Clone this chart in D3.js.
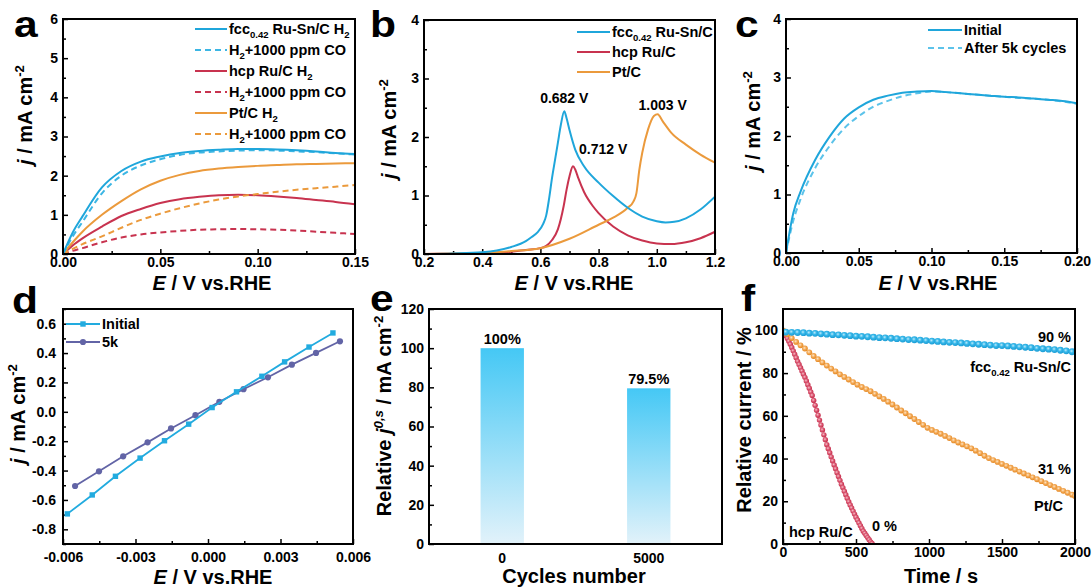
<!DOCTYPE html>
<html><head><meta charset="utf-8">
<script src="https://cdn.jsdelivr.net/npm/d3@7"></script>
<style>body{margin:0;background:#fff}svg{display:block;font-family:"Liberation Sans",Arial,sans-serif;font-weight:bold}</style>
</head><body><script>
// ---------- DATA ----------
// Panel a
const aX = [0,0.005,0.01,0.02,0.03,0.04,0.05,0.06,0.07,0.08,0.09,0.10,0.11,0.12,0.13,0.14,0.15];
const aFccH2 = [0,0.55,0.96,1.7,2.12,2.36,2.49,2.58,2.63,2.66,2.68,2.68,2.67,2.65,2.62,2.58,2.55];
const aFccCO = [0,0.45,0.82,1.55,2.0,2.26,2.42,2.53,2.59,2.62,2.64,2.65,2.64,2.62,2.6,2.57,2.54];
const aHcpH2 = [0,0.22,0.4,0.7,0.97,1.15,1.3,1.4,1.46,1.5,1.51,1.5,1.47,1.43,1.38,1.33,1.27];
const aHcpCO = [0,0.08,0.15,0.3,0.42,0.5,0.55,0.59,0.62,0.63,0.64,0.63,0.62,0.6,0.57,0.54,0.51];
const aPtH2 = [0,0.3,0.57,1.0,1.35,1.65,1.87,2.02,2.12,2.18,2.22,2.25,2.27,2.29,2.3,2.31,2.32];
const aPtCO = [0,0.13,0.25,0.45,0.67,0.87,1.03,1.17,1.29,1.39,1.47,1.53,1.59,1.64,1.68,1.72,1.76];
const aLegend = ["fcc|0.42| Ru-Sn/C H|2", "H|2|+1000 ppm CO", "hcp Ru/C H|2", "H|2|+1000 ppm CO", "Pt/C H|2", "H|2|+1000 ppm CO"];
// Panel b
const bFccX = [0.2,0.3,0.4,0.45,0.5,0.55,0.57,0.59,0.61,0.62,0.63,0.64,0.65,0.66,0.67,0.682,0.69,0.70,0.72,0.75,0.8,0.85,0.9,0.95,1.0,1.03,1.06,1.1,1.15,1.2];
const bFccY = [0,0.01,0.03,0.06,0.12,0.22,0.29,0.37,0.52,0.66,0.95,1.3,1.6,1.9,2.2,2.44,2.32,2.12,1.78,1.5,1.22,0.99,0.79,0.64,0.56,0.54,0.55,0.61,0.76,0.98];
const bHcpX = [0.2,0.3,0.4,0.5,0.55,0.6,0.62,0.64,0.66,0.68,0.69,0.70,0.712,0.72,0.73,0.75,0.78,0.8,0.85,0.9,0.95,1.0,1.05,1.1,1.15,1.2];
const bHcpY = [0,0.005,0.01,0.04,0.07,0.1,0.14,0.24,0.42,0.82,1.1,1.33,1.5,1.44,1.3,1.06,0.82,0.7,0.47,0.32,0.23,0.18,0.17,0.2,0.27,0.38];
const bPtX = [0.2,0.3,0.4,0.5,0.6,0.7,0.8,0.85,0.9,0.92,0.93,0.94,0.95,0.97,0.99,1.003,1.02,1.05,1.1,1.15,1.2];
const bPtY = [0,0.01,0.02,0.05,0.1,0.26,0.5,0.62,0.79,0.9,1.04,1.44,1.73,2.13,2.36,2.39,2.27,2.07,1.87,1.7,1.56];
const bLegend = ["fcc|0.42| Ru-Sn/C", "hcp Ru/C", "Pt/C"];
const bPeaks = [{x:0.682,y:2.44,label:"0.682 V"},{x:0.712,y:1.5,label:"0.712 V"},{x:1.003,y:2.39,label:"1.003 V"}];
// Panel c
const cX = [0,0.005,0.01,0.02,0.03,0.04,0.05,0.06,0.07,0.08,0.09,0.10,0.11,0.12,0.13,0.14,0.15,0.16,0.17,0.18,0.19,0.2];
const cInitial = [0,0.68,1.05,1.59,1.99,2.3,2.49,2.62,2.69,2.74,2.76,2.77,2.75,2.73,2.71,2.69,2.67,2.66,2.64,2.62,2.6,2.56];
const cAfter = [0,0.55,0.92,1.45,1.83,2.13,2.34,2.5,2.6,2.68,2.73,2.76,2.75,2.73,2.71,2.69,2.67,2.65,2.64,2.62,2.59,2.55];
const cLegend = ["Initial", "After 5k cycles"];
// Panel d
const dInitX = [-0.00582,-0.00479,-0.00383,-0.00281,-0.00180,-0.00080,0.00017,0.00118,0.00223,0.00317,0.00418,0.00517];
const dInitY = [-0.695,-0.566,-0.439,-0.315,-0.197,-0.084,0.029,0.136,0.242,0.340,0.441,0.537];
const d5kX = [-0.00550,-0.00451,-0.00351,-0.00250,-0.00153,-0.00052,0.00047,0.00147,0.00248,0.00347,0.00447,0.00546];
const d5kY = [-0.505,-0.405,-0.303,-0.208,-0.113,-0.023,0.068,0.154,0.235,0.321,0.401,0.480];
const dLegend = ["Initial", "5k"];
// Panel e
const eCats = ["0", "5000"];
const eVals = [100, 79.5];
const eLabels = ["100%", "79.5%"];
// Panel f
const fFccT = [20,60,100,140,180,220,260,300,340,380,420,460,500,540,580,620,660,700,740,780,820,860,900,940,980,1020,1060,1100,1140,1180,1220,1260,1300,1340,1380,1420,1460,1500,1540,1580,1620,1660,1700,1740,1780,1820,1860,1900,1940,1980];
const fFccV = [99.2,99.1,99.0,98.9,98.7,98.6,98.4,98.2,98.0,97.9,97.7,97.5,97.3,97.2,97.0,96.8,96.6,96.5,96.3,96.1,95.9,95.7,95.6,95.4,95.2,95.0,94.8,94.6,94.4,94.3,94.1,93.9,93.7,93.5,93.3,93.1,92.9,92.9,92.7,92.5,92.3,92.1,91.9,91.6,91.4,91.2,91.0,90.7,90.4,90.0];
const fPtT = [0,30,60,90,120,150,180,210,240,270,300,330,360,390,420,450,480,510,540,570,600,630,660,690,720,750,780,810,840,870,900,930,960,990,1020,1050,1080,1110,1140,1170,1200,1230,1260,1290,1320,1350,1380,1410,1440,1470,1500,1530,1560,1590,1620,1650,1680,1710,1740,1770,1800,1830,1860,1890,1920,1950,1980,2000];
const fPtV = [100,98.2,96.4,94.6,93,91.5,89.7,88,86.5,85,83.5,82.1,80.8,79.4,78.2,77,75.8,74.6,73.5,72.5,71.5,70.3,69.1,67.9,66.6,65.3,63.9,62.5,61.2,59.8,58.5,57.1,55.8,54.4,53.4,52.5,51.6,50.6,49.6,48.5,47.5,46.6,45.7,44.8,43.7,42.5,41.3,40.2,39.3,38.4,37.5,36.6,35.7,34.8,33.9,33,32.1,31.2,30.3,29.4,28.5,27.6,26.7,25.8,24.9,24,23.1,22.5];
const fHcpT = [0,10,20,30,40,50,60,70,80,90,100,110,120,130,140,150,160,170,180,190,200,210,220,230,240,250,260,270,280,290,300,310,320,330,340,350,360,370,380,390,400,410,420,430,440,450,460,470,480,490,500,510,520,530,540,550,560,570,580,590,600,610];
const fHcpV = [100,98.8,97.5,96.2,94.9,93.5,92,90.4,88.8,87.2,85.5,84,82.5,81,79.5,78,76.3,74.6,72.9,71.2,69.5,67.2,64.9,62.6,60.3,58,55.7,53.4,51.1,48.8,46.5,44.6,42.7,40.8,38.9,37,35.2,33.4,31.6,29.8,28,26.4,24.7,23.1,21.4,19.8,18.3,16.9,15.4,14,12.5,11.2,9.9,8.6,7.3,6,5,4,3,2,1,0.2];

// ---------- COLORS ----------
const BLUE = "#1fa6db", BLUE2 = "#3cb6e4", RED = "#c8334f", ORANGE = "#eb9a3c", PURPLE = "#6264a6";

const svg = d3.select("body").append("svg").attr("width",1092).attr("height",588);
const defs = svg.append("defs");

function styleAxis(g){
  g.select(".domain").remove();
  g.attr("font-family",null).attr("font-size",null);
  g.selectAll(".tick line").attr("stroke","#000").attr("stroke-width",1.5);
  g.selectAll(".tick text").attr("fill","#000").style("font-size","14px");
}

function rich(sel, parts, fs){
  let shift = 0;
  parts.forEach(p=>{
    const ts = sel.append("tspan").text(p.t);
    let target = 0;
    if (p.sup) target = -0.38*fs;
    if (p.sub) target = 0.28*fs;
    ts.attr("dy", target - shift);
    shift = target;
    if (p.sup || p.sub) ts.style("font-size", (fs*0.66)+"px");
    if (p.it) ts.attr("font-style","italic");
  });
}
function subParts(str){
  return str.split("|").map((t,i)=>({t, sub: i%2===1}));
}

function makePanel(o){
  const x = d3.scaleLinear().domain(o.xd).range([o.l,o.r]);
  const y = d3.scaleLinear().domain(o.yd).range([o.b,o.t]);
  const g = svg.append("g");
  const id = "clip"+o.name;
  defs.append("clipPath").attr("id",id).append("rect")
    .attr("x",o.l).attr("y",o.t).attr("width",o.r-o.l).attr("height",o.b-o.t);
  const axes = g.append("g");
  if (o.xMajor){
    axes.append("g").attr("transform",`translate(0,${o.b})`)
      .call(d3.axisBottom(x).tickValues(o.xMajor).tickSize(-5).tickPadding(o.xpad||3).tickFormat(o.xf)).call(styleAxis);
    if (o.xMinor) axes.append("g").attr("transform",`translate(0,${o.b})`)
      .call(d3.axisBottom(x).tickValues(o.xMinor).tickSize(-3).tickFormat("")).call(styleAxis);
  }
  axes.append("g").attr("transform",`translate(${o.l},0)`)
    .call(d3.axisLeft(y).tickValues(o.yMajor).tickSize(-5).tickPadding(o.ypad||5).tickFormat(o.yf)).call(styleAxis);
  if (o.yMinor) axes.append("g").attr("transform",`translate(${o.l},0)`)
    .call(d3.axisLeft(y).tickValues(o.yMinor).tickSize(-3).tickFormat("")).call(styleAxis);
  const plot = g.append("g").attr("clip-path",`url(#${id})`);
  const over = g.append("g");
  g.append("rect").attr("x",o.l).attr("y",o.t).attr("width",o.r-o.l).attr("height",o.b-o.t)
    .attr("fill","none").attr("stroke","#000").attr("stroke-width",2);
  svg.append("text").attr("x",o.lx).attr("y",o.ly).style("font-size","37px")
    .attr("transform",`translate(${o.lx},0) scale(1.15,1) translate(${-o.lx},0)`).text(o.name);
  if (o.xTitle){
    const t = svg.append("text").attr("x",o.xtx).attr("y",o.xty).attr("text-anchor","middle").style("font-size","20px");
    rich(t, o.xTitle, 20);
  }
  const t2 = svg.append("text").attr("transform",`translate(${o.ytx},${o.yty}) rotate(-90)`)
    .attr("text-anchor","middle").attr("dy","0.35em").style("font-size","20px");
  rich(t2, o.yTitle, 20);
  return {x,y,plot,over,g};
}

const ETitle = [{t:"E",it:true},{t:" / V vs.RHE"}];
const JTitle = [{t:"j",it:true},{t:" / mA cm"},{t:"-2",sup:true}];
const f2 = v=>v.toFixed(2), f1=v=>v.toFixed(1), f0=v=>String(v);

function curve(p, xs, ys, color, dash, w){
  const line = d3.line().x((d,i)=>p.x(xs[i])).y((d,i)=>p.y(ys[i])).curve(d3.curveMonotoneX);
  p.plot.append("path").attr("d",line(ys)).attr("fill","none").attr("stroke",color)
    .attr("stroke-width",w||2).attr("stroke-dasharray",dash?"6,4":null);
}

// ---------- Panel a ----------
const A = makePanel({name:"a", l:63,r:355,t:19,b:254, xd:[0,0.15], yd:[0,6],
  xMajor:[0,0.05,0.10,0.15], xMinor:[0.025,0.075,0.125], xf:f2,
  yMajor:[0,1,2,3,4,5,6], yMinor:[0.5,1.5,2.5,3.5,4.5,5.5], yf:f0,
  lx:14, ly:37, xTitle:ETitle, xtx:212, xty:290, yTitle:JTitle, ytx:32, yty:115});
curve(A,aX,aHcpCO,RED,true); curve(A,aX,aHcpH2,RED,false);
curve(A,aX,aPtCO,ORANGE,true); curve(A,aX,aPtH2,ORANGE,false);
curve(A,aX,aFccCO,BLUE2,true); curve(A,aX,aFccH2,BLUE,false);
const aCols=[BLUE,BLUE2,RED,RED,ORANGE,ORANGE];
aLegend.forEach((s,i)=>{
  const yy = 29 + i*21;
  A.over.append("line").attr("x1",195).attr("x2",227).attr("y1",yy).attr("y2",yy)
    .attr("stroke",aCols[i]).attr("stroke-width",2).attr("stroke-dasharray",i%2?"6,4":null);
  const t = A.over.append("text").attr("x",229).attr("y",yy+5).style("font-size","14.5px");
  rich(t, subParts(s), 14.5);
});

// ---------- Panel b ----------
const B = makePanel({name:"b", l:424,r:715,t:20,b:254, xd:[0.2,1.2], yd:[0,4],
  xMajor:[0.2,0.4,0.6,0.8,1.0,1.2], xMinor:[0.3,0.5,0.7,0.9,1.1], xf:f1,
  yMajor:[0,1,2,3,4], yMinor:[0.5,1.5,2.5,3.5], yf:f0,
  lx:370, ly:37, xTitle:ETitle, xtx:574, xty:290,
  yTitle:[{t:"j",it:true},{t:" /  mA cm"},{t:"-2",sup:true}], ytx:396, yty:129});
curve(B,bHcpX,bHcpY,RED,false); curve(B,bPtX,bPtY,ORANGE,false); curve(B,bFccX,bFccY,BLUE,false);
[BLUE,RED,ORANGE].forEach((c,i)=>{
  const yy = 32 + i*20;
  B.over.append("line").attr("x1",577).attr("x2",610).attr("y1",yy).attr("y2",yy).attr("stroke",c).attr("stroke-width",2);
  const t = B.over.append("text").attr("x",612).attr("y",yy+5).style("font-size","14.5px");
  rich(t, subParts(bLegend[i]), 14.5);
});
const bOff = [[0,-8],[6,-12],[5,-4]];
bPeaks.forEach((p,i)=>{
  B.over.append("text").attr("x",B.x(p.x)+bOff[i][0]).attr("y",B.y(p.y)+bOff[i][1])
    .attr("text-anchor",i===1?"start":"middle").style("font-size","14px").text(p.label);
});

// ---------- Panel c ----------
const C = makePanel({name:"c", l:786,r:1077,t:19,b:253, xd:[0,0.2], yd:[0,4],
  xMajor:[0,0.05,0.10,0.15,0.20], xMinor:[0.025,0.075,0.125,0.175], xf:f2,
  yMajor:[0,1,2,3,4], yMinor:[0.5,1.5,2.5,3.5], yf:f0,
  lx:735, ly:37, xTitle:ETitle, xtx:938, xty:290, yTitle:JTitle, ytx:760, yty:121});
curve(C,cX,cAfter,"#5cc3ea",true); curve(C,cX,cInitial,BLUE,false);
cLegend.forEach((s,i)=>{
  const yy = 30 + i*18;
  C.over.append("line").attr("x1",928).attr("x2",962).attr("y1",yy).attr("y2",yy)
    .attr("stroke",i?"#5cc3ea":BLUE).attr("stroke-width",2).attr("stroke-dasharray",i?"6,4":null);
  C.over.append("text").attr("x",964).attr("y",yy+5).style("font-size","14.5px").text(s);
});

// ---------- Panel d ----------
const fd3 = v=>{const s=v.toFixed(3); return s==="-0.000"?"0.000":s;};
const D = makePanel({name:"d", l:63,r:353,t:309,b:544, xd:[-0.006,0.006], yd:[-0.9,0.7],
  xMajor:[-0.006,-0.003,0,0.003,0.006], xMinor:[-0.0045,-0.0015,0.0015,0.0045], xf:fd3, xpad:8,
  yMajor:[-0.8,-0.6,-0.4,-0.2,0,0.2,0.4,0.6], yMinor:[-0.9,-0.7,-0.5,-0.3,-0.1,0.1,0.3,0.5,0.7], yf:f1, ypad:7,
  lx:12, ly:313, xTitle:ETitle, xtx:213, xty:584, yTitle:JTitle, ytx:25, yty:414});
function dSeries(xs, ys, color, sq){
  const line = d3.line().x((d,i)=>D.x(xs[i])).y((d,i)=>D.y(ys[i]));
  D.plot.append("path").attr("d",line(ys)).attr("fill","none").attr("stroke",color).attr("stroke-width",1.8);
  ys.forEach((v,i)=>{
    if (sq) D.plot.append("rect").attr("x",D.x(xs[i])-2.7).attr("y",D.y(v)-2.7).attr("width",5.4).attr("height",5.4).attr("fill",color);
    else D.plot.append("circle").attr("cx",D.x(xs[i])).attr("cy",D.y(v)).attr("r",3.1).attr("fill",color);
  });
}
dSeries(d5kX,d5kY,PURPLE,false); dSeries(dInitX,dInitY,"#22abdf",true);
dLegend.forEach((s,i)=>{
  const yy = 324 + i*18, col = i?PURPLE:"#22abdf";
  D.over.append("line").attr("x1",66).attr("x2",100).attr("y1",yy).attr("y2",yy).attr("stroke",col).attr("stroke-width",1.8);
  if (i) D.over.append("circle").attr("cx",83).attr("cy",yy).attr("r",3.1).attr("fill",col);
  else D.over.append("rect").attr("x",80.3).attr("y",yy-2.7).attr("width",5.4).attr("height",5.4).attr("fill",col);
  D.over.append("text").attr("x",102).attr("y",yy+5).style("font-size","14.5px").text(s);
});

// ---------- Panel e ----------
const E = makePanel({name:"e", l:429,r:722,t:309,b:544, xd:[0,1], yd:[0,120],
  yMajor:[0,20,40,60,80,100,120], yMinor:[10,30,50,70,90,110], yf:f0,
  lx:370, ly:311, xTitle:[{t:"Cycles number"}], xtx:574, xty:583,
  yTitle:[{t:"Relative "},{t:"j",it:true},{t:"0,s",sup:true,it:true},{t:" / mA cm"},{t:"-2",sup:true}], ytx:391, yty:416});
const eb = d3.scaleBand().domain(eCats).range([429,722]).paddingInner(0.704).paddingOuter(0.352);
const grad = defs.append("linearGradient").attr("id","egrad").attr("x1",0).attr("y1",0).attr("x2",0).attr("y2",1);
grad.append("stop").attr("offset","0%").attr("stop-color","#45c8f5");
grad.append("stop").attr("offset","100%").attr("stop-color","#e2f2fa");
eVals.forEach((v,i)=>{
  E.plot.append("rect").attr("x",eb(eCats[i])).attr("width",eb.bandwidth())
    .attr("y",E.y(v)).attr("height",E.y(0)-E.y(v)).attr("fill","url(#egrad)");
  E.over.append("text").attr("x",eb(eCats[i])+eb.bandwidth()/2).attr("y",E.y(v)-4)
    .attr("text-anchor","middle").style("font-size","14.5px").text(eLabels[i]);
  E.over.append("text").attr("x",eb(eCats[i])+eb.bandwidth()/2).attr("y",563)
    .attr("text-anchor","middle").style("font-size","14px").text(eCats[i]);
});

// ---------- Panel f ----------
const F = makePanel({name:"f", l:783,r:1075,t:309,b:544, xd:[0,2000], yd:[0,110],
  xMajor:[0,500,1000,1500,2000], xMinor:[250,750,1250,1750], xf:f0,
  yMajor:[0,20,40,60,80,100], yMinor:[10,30,50,70,90], yf:f0,
  lx:741, ly:311, xTitle:[{t:"Time / s"}], xtx:941, xty:583,
  yTitle:[{t:"Relative current / %"}], ytx:751, yty:420});
function ballGrad(id, c0, c1, c2){
  const rg = defs.append("radialGradient").attr("id",id).attr("cx","42%").attr("cy","40%").attr("r","60%");
  rg.append("stop").attr("offset","0%").attr("stop-color",c0);
  rg.append("stop").attr("offset","45%").attr("stop-color",c1);
  rg.append("stop").attr("offset","100%").attr("stop-color",c2);
}
ballGrad("gBlue","#bfeafa","#37b8ea","#1a9cd4");
ballGrad("gOr","#fde6c8","#f4ad5c","#e4861f");
ballGrad("gRed","#f6c0ca","#dd5d77","#c22846");
function balls(ts, vs, gid, r){
  vs.forEach((v,i)=>F.plot.append("circle").attr("cx",F.x(ts[i])).attr("cy",F.y(v)).attr("r",r).attr("fill",`url(#${gid})`));
}
balls(fHcpT,fHcpV,"gRed",2.7);
balls(fPtT,fPtV,"gOr",2.9);
balls(fFccT,fFccV,"gBlue",3.4);
const fText = (x,y,parts,anchor)=>{const t=F.over.append("text").attr("x",x).attr("y",y).attr("text-anchor",anchor||"start").style("font-size","14.5px"); rich(t,parts,14.5);};
fText(1071,342,[{t:"90 %"}],"end");
fText(1071,372,subParts("fcc|0.42| Ru-Sn/C"),"end");
fText(1071,474,[{t:"31 %"}],"end");
fText(1063,511,[{t:"Pt/C"}],"end");
fText(789,537,[{t:"hcp Ru/C"}]);
fText(872,531,[{t:"0 %"}]);
</script></body></html>
